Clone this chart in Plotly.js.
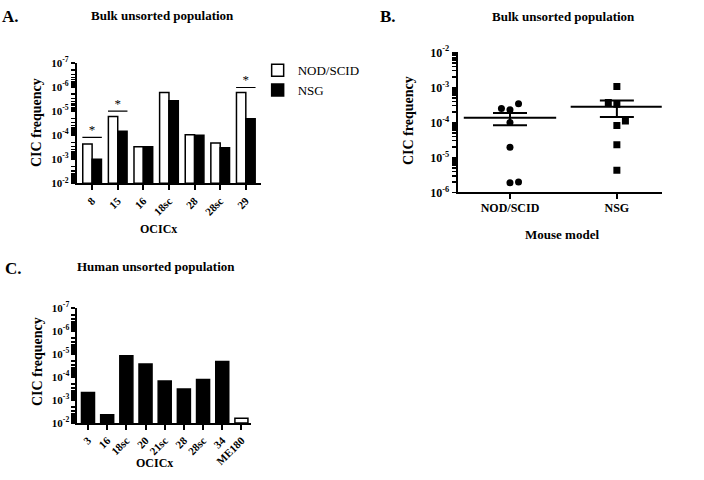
<!DOCTYPE html>
<html><head><meta charset="utf-8">
<script src="https://cdn.plot.ly/plotly-3.0.1.min.js"></script>
<style>html,body{margin:0;padding:0;background:#fff}#chart{width:704px;height:480px}</style>
</head><body><div id="chart"></div>
<script>
// Panel A: bulk unsorted population, CIC frequency per OCICx line
const catsA = ['8', '15', '16', '18sc', '28', '28sc', '29'];
const nodScidA = [2.3e-4, 1.7e-5, 3.0e-4, 1.7e-6, 9.5e-5, 2.1e-4, 1.7e-6];
const nsgA = [1.0e-3, 6.9e-5, 3.0e-4, 3.7e-6, 1.0e-4, 3.3e-4, 2.1e-5];
const sigCatsA = ['8', '15', '29'];
const sigLevelsA = [1.23e-4, 1.0e-5, 1.05e-6];

// Panel B: bulk unsorted population by mouse model
const modelsB = ['NOD/SCID', 'NSG'];
const nodScidB = [2.5e-4, 2.3e-4, 3.4e-4, 1.0e-4, 1.95e-5, 1.9e-6, 2.0e-6];
const nsgB = [1.05e-3, 3.7e-4, 3.3e-4, 1.1e-4, 8.1e-5, 2.3e-5, 4.3e-6];
const jitterNodB = [-0.08, 0, 0.08, 0, 0, 0, 0.08];
const jitterNsgB = [0, -0.08, 0, 0.08, 0, 0, 0];

// Panel C: human unsorted population
const catsC = ['3', '16', '18sc', '20', '21sc', '28', '28sc', '34', 'ME180'];
const valsC = [4.8e-4, 4.4e-3, 1.2e-5, 2.7e-5, 1.5e-4, 3.3e-4, 1.3e-4, 2.1e-5, 6.3e-3];
const fillC = ['black', 'black', 'black', 'black', 'black', 'black', 'black', 'black', 'white'];

const decadesA = [-7, -6, -5, -4, -3, -2];
const decadesB = [-6, -5, -4, -3, -2];

const BASE = 0.01; // bars grow from the 10^-2 baseline
const idxA = catsA.map((c, i) => i);
const idxC = catsC.map((c, i) => i);

function mean(a) { return a.reduce((s, v) => s + v, 0) / a.length; }
function sem(a) {
  const m = mean(a);
  const v = a.reduce((s, x) => s + (x - m) * (x - m), 0) / (a.length - 1);
  return Math.sqrt(v / a.length);
}
// log ticks: labelled decades plus unlabelled 2..9 minor ticks
function logTicks(decades) {
  const vals = [], text = [];
  decades.forEach((e, i) => {
    vals.push(Math.pow(10, e)); text.push('10<sup>' + e + '</sup>');
    if (i < decades.length - 1) for (let k = 2; k <= 9; k++) { vals.push(k * Math.pow(10, e)); text.push(''); }
  });
  return {tickvals: vals, ticktext: text};
}

const FONT = 'Liberation Serif, Times New Roman, serif';
const tickFont = {family: FONT, size: 11, color: 'black', weight: 'bold'};

const traces = [
  {type: 'bar', name: 'NOD/SCID', x: idxA, y: nodScidA.map(v => v - BASE), base: BASE, xaxis: 'x', yaxis: 'y',
   marker: {color: 'white', line: {color: 'black', width: 1.5}}},
  {type: 'bar', name: 'NSG', x: idxA, y: nsgA.map(v => v - BASE), base: BASE, xaxis: 'x', yaxis: 'y',
   marker: {color: 'black', line: {color: 'black', width: 1.5}}},
  {type: 'scatter', mode: 'markers', x: nodScidB.map((v, i) => 0 + jitterNodB[i]), y: nodScidB,
   xaxis: 'x2', yaxis: 'y2', showlegend: false,
   marker: {symbol: 'circle', size: 7, color: 'black'}},
  {type: 'scatter', mode: 'markers', x: nsgB.map((v, i) => 1 + jitterNsgB[i]), y: nsgB,
   xaxis: 'x2', yaxis: 'y2', showlegend: false,
   marker: {symbol: 'square', size: 7, color: 'black'}},
  {type: 'scatter', mode: 'markers', x: [0, 1], y: [mean(nodScidB), mean(nsgB)],
   xaxis: 'x2', yaxis: 'y2', showlegend: false,
   marker: {symbol: 'line-ew', size: 66, color: 'black', line: {color: 'black', width: 2}},
   error_y: {type: 'data', array: [sem(nodScidB), sem(nsgB)], color: 'black', thickness: 2, width: 17}},
  {type: 'bar', x: idxC, y: valsC.map(v => v - BASE), base: BASE, width: 0.68, xaxis: 'x3', yaxis: 'y3', showlegend: false,
   marker: {color: fillC, line: {color: 'black', width: 1.5}}}
];

// significance bars with asterisks in panel A
sigCatsA.forEach((c, i) => {
  const xi = catsA.indexOf(c);
  traces.push({type: 'scatter', mode: 'lines', x: [xi - 0.38, xi + 0.38], y: [sigLevelsA[i], sigLevelsA[i]],
    xaxis: 'x', yaxis: 'y', showlegend: false, line: {color: '#000000', width: 1.2}});
});
traces.push({type: 'scatter', mode: 'text', x: sigCatsA.map(c => catsA.indexOf(c)), y: sigLevelsA,
  text: sigCatsA.map(() => '*'), textposition: 'top center', xaxis: 'x', yaxis: 'y', showlegend: false,
  textfont: {family: FONT, size: 13, color: '#000000'}});

function txt(text, x, y, size, extra) {
  return Object.assign({xref: 'paper', yref: 'paper', x: x / 704, y: 1 - y / 480, text: text,
    showarrow: false, xanchor: 'center', yanchor: 'middle',
    font: {family: FONT, size: size, color: 'black', weight: 'bold'}}, extra || {});
}
const annotations = [
  txt('A.', 0, 17, 17, {xanchor: 'left'}),
  txt('Bulk unsorted population', 162, 16, 13),
  txt('CIC frequency', 37, 123, 14, {textangle: -90}),
  txt('OCICx', 158, 229, 12),
  txt('B.', 378, 17, 17, {xanchor: 'left'}),
  txt('Bulk unsorted population', 563, 17, 13),
  txt('CIC frequency', 408, 121, 14, {textangle: -90}),
  txt('Mouse model', 562, 234, 13),
  txt('C.', 3, 268, 17, {xanchor: 'left'}),
  txt('Human unsorted population', 156, 266, 13),
  txt('CIC frequency', 37, 362, 14, {textangle: -90}),
  txt('OCICx', 154, 463, 12)
];

const axLine = {showline: true, linecolor: 'black', linewidth: 2, ticks: 'outside', tickcolor: 'black',
  tickwidth: 1.5, ticklen: 4, showgrid: false, zeroline: false, tickfont: tickFont};

const ticksA = logTicks(decadesA);
const ticksB = logTicks(decadesB);

const layout = {
  width: 704, height: 480, margin: {l: 0, r: 0, t: 0, b: 0},
  paper_bgcolor: 'white', plot_bgcolor: 'white',
  font: {family: FONT, color: 'black'},
  barmode: 'group', bargap: 0.27, bargroupgap: 0,
  showlegend: true,
  legend: {x: 0.366, y: 0.885, xanchor: 'left', yanchor: 'top', bgcolor: 'rgba(0,0,0,0)',
           font: {family: FONT, size: 13, color: 'black'}, tracegroupgap: 0, itemwidth: 30},
  xaxis: Object.assign({}, axLine, {domain: [0.109, 0.371], range: [-0.6, 6.6], tickwidth: 2, ticklen: 5,
    tickvals: idxA, ticktext: catsA, tickangle: -45, anchor: 'y'}),
  yaxis: Object.assign({}, axLine, {domain: [0.618, 0.869], type: 'log', range: [-2, -7],
    tickvals: ticksA.tickvals, ticktext: ticksA.ticktext, anchor: 'x'}),
  xaxis2: Object.assign({}, axLine, {domain: [0.650, 0.940], range: [-0.49, 1.42], tickwidth: 2, ticklen: 5,
    tickvals: [0, 1], ticktext: modelsB, anchor: 'y2', ticklabelstandoff: -2,
    tickfont: {family: FONT, size: 12, color: 'black', weight: 'bold'}}),
  yaxis2: Object.assign({}, axLine, {domain: [0.599, 0.891], type: 'log', range: [-6, -2],
    tickvals: ticksB.tickvals, ticktext: ticksB.ticktext, anchor: 'x2',
    tickfont: {family: FONT, size: 12, color: 'black', weight: 'bold'}}),
  xaxis3: Object.assign({}, axLine, {domain: [0.110, 0.356], range: [-0.55, 8.48], tickwidth: 2, ticklen: 5,
    tickvals: idxC, ticktext: catsC, tickangle: -45, anchor: 'y3'}),
  yaxis3: Object.assign({}, axLine, {domain: [0.119, 0.358], type: 'log', range: [-2, -7],
    tickvals: ticksA.tickvals, ticktext: ticksA.ticktext, anchor: 'x3'}),
  annotations: annotations
};

Plotly.newPlot('chart', traces, layout, {displayModeBar: false, staticPlot: true});
</script></body></html>
